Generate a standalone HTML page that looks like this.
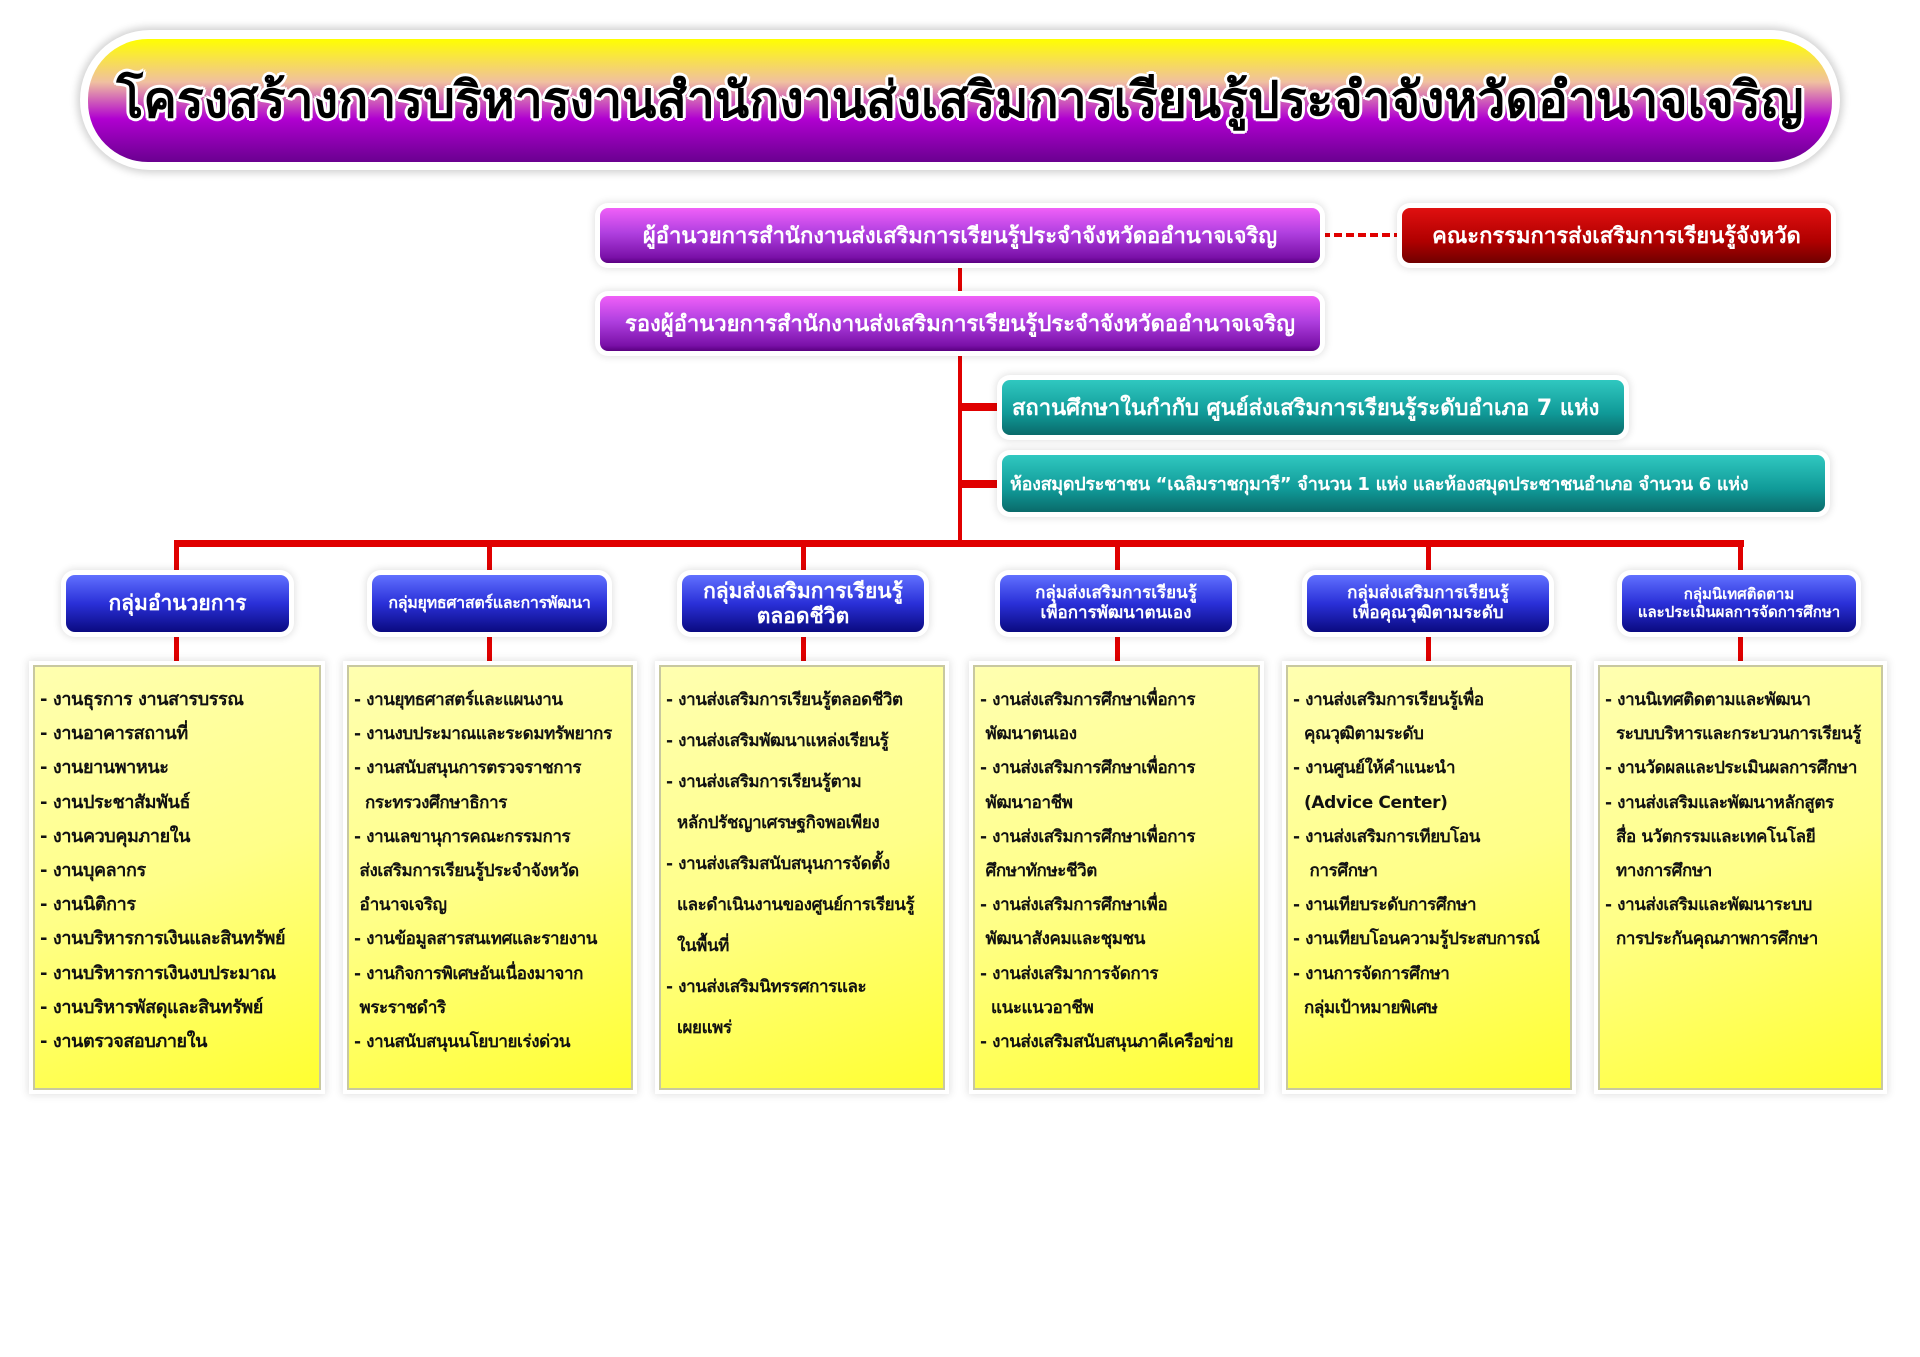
<!DOCTYPE html>
<html><head><meta charset="utf-8"><style>
*{margin:0;padding:0;box-sizing:border-box}
body{width:1920px;height:1357px;background:#fff;position:relative;overflow:hidden;font-family:"DejaVu Sans","Liberation Sans",sans-serif;font-weight:bold}
.a{position:absolute}
.glow{position:absolute;background:#fff;box-shadow:0 0 8px 3px rgba(0,0,0,.18)}
.box{position:absolute;display:flex;align-items:center;justify-content:center;text-align:center;color:#fff;white-space:nowrap;overflow:hidden;box-shadow:0 0 0 5px #fff,0 0 8px 6px rgba(0,0,0,.12)}
.pur{background:linear-gradient(#f060f8,#b040e0 45%,#7a10a8 90%,#5a0080);border-radius:8px;font-size:22px}
.red{background:linear-gradient(#e01010,#b00000 60%,#700000);border-radius:8px;font-size:22px}
.teal{background:linear-gradient(#30c8c0,#109a98 60%,#0a6a6a);border-radius:8px;font-size:22px;justify-content:flex-start;padding-left:10px}
.blue{background:linear-gradient(#6070ff,#2a30d8 50%,#0a0a80);border-radius:9px;font-size:21px;line-height:1.15}
.blue.s{font-size:17px}
.ln{position:absolute;background:#e00000}
.yl{position:absolute;background:linear-gradient(160deg,#ffffb0,#ffff88 50%,#ffff30);border:2px solid #c8c8a0;font-size:18px;letter-spacing:-0.4px;color:#111;padding:0 5px;white-space:nowrap;overflow:hidden;box-shadow:0 0 0 4px #fff,0 0 8px 5px rgba(0,0,0,.12)}
.yl div{height:34.2px;line-height:34.2px}
.yl.t div{height:41px;line-height:41px}
</style></head><body>
<div class="glow" style="left:80px;top:30px;width:1760px;height:140px;border-radius:70px"></div>
<div class="a" style="left:88px;top:39px;width:1744px;height:123px;border-radius:60px;background:linear-gradient(#ffff00 0%,#f0c0a0 35%,#b000d0 65%,#6a0090 100%);font-size:50px;color:#000;display:flex;align-items:center;justify-content:center;white-space:nowrap;text-shadow:-2px -2px 0 #fff,2px -2px 0 #fff,-2px 2px 0 #fff,2px 2px 0 #fff,0 3px 0 #fff,3px 0 0 #fff,-3px 0 0 #fff,0 -3px 0 #fff">โครงสร้างการบริหารงานสำนักงานส่งเสริมการเรียนรู้ประจำจังหวัดอำนาจเจริญ</div>

<div class="ln" style="left:958px;top:262px;width:4px;height:282px"></div>
<div class="a" style="left:1322px;top:233px;width:80px;border-top:4px dashed #e00000"></div>
<div class="ln" style="left:960px;top:403px;width:42px;height:8px"></div>
<div class="ln" style="left:960px;top:480px;width:42px;height:8px"></div>
<div class="ln" style="left:174px;top:540px;width:1570px;height:7px"></div>
<div class="ln" style="left:174px;top:544px;width:5px;height:32px"></div>
<div class="ln" style="left:487px;top:544px;width:5px;height:32px"></div>
<div class="ln" style="left:801px;top:544px;width:5px;height:32px"></div>
<div class="ln" style="left:1115px;top:544px;width:5px;height:32px"></div>
<div class="ln" style="left:1426px;top:544px;width:5px;height:32px"></div>
<div class="ln" style="left:1738px;top:544px;width:5px;height:32px"></div>
<div class="ln" style="left:174px;top:632px;width:5px;height:34px"></div>
<div class="ln" style="left:487px;top:632px;width:5px;height:34px"></div>
<div class="ln" style="left:801px;top:632px;width:5px;height:34px"></div>
<div class="ln" style="left:1115px;top:632px;width:5px;height:34px"></div>
<div class="ln" style="left:1426px;top:632px;width:5px;height:34px"></div>
<div class="ln" style="left:1738px;top:632px;width:5px;height:34px"></div>

<div class="box pur" style="left:600px;top:208px;width:720px;height:55px">ผู้อำนวยการสำนักงานส่งเสริมการเรียนรู้ประจำจังหวัดออำนาจเจริญ</div>
<div class="box red" style="left:1402px;top:208px;width:429px;height:55px">คณะกรรมการส่งเสริมการเรียนรู้จังหวัด</div>
<div class="box pur" style="left:600px;top:296px;width:720px;height:55px">รองผู้อำนวยการสำนักงานส่งเสริมการเรียนรู้ประจำจังหวัดออำนาจเจริญ</div>
<div class="box teal" style="left:1002px;top:380px;width:622px;height:55px">สถานศึกษาในกำกับ ศูนย์ส่งเสริมการเรียนรู้ระดับอำเภอ 7 แห่ง</div>
<div class="box teal" style="left:1002px;top:455px;width:823px;height:57px;font-size:18px;letter-spacing:-0.3px;padding-left:8px">ห้องสมุดประชาชน “เฉลิมราชกุมารี” จำนวน 1 แห่ง และห้องสมุดประชาชนอำเภอ จำนวน 6 แห่ง</div>

<div class="box blue" style="left:66px;top:575px;width:223px;height:57px">กลุ่มอำนวยการ</div>
<div class="box blue" style="left:372px;top:575px;width:235px;height:57px;font-size:16px;letter-spacing:-0.3px">กลุ่มยุทธศาสตร์และการพัฒนา</div>
<div class="box blue" style="left:682px;top:575px;width:242px;height:57px">กลุ่มส่งเสริมการเรียนรู้<br>ตลอดชีวิต</div>
<div class="box blue s" style="left:1000px;top:575px;width:232px;height:57px">กลุ่มส่งเสริมการเรียนรู้<br>เพื่อการพัฒนาตนเอง</div>
<div class="box blue s" style="left:1307px;top:575px;width:242px;height:57px">กลุ่มส่งเสริมการเรียนรู้<br>เพื่อคุณวุฒิตามระดับ</div>
<div class="box blue s" style="left:1622px;top:575px;width:234px;height:57px;font-size:15px">กลุ่มนิเทศติดตาม<br>และประเมินผลการจัดการศึกษา</div>

<div class="yl" style="left:33px;top:665px;width:288px;height:425px;padding-top:16px">
<div>- งานธุรการ งานสารบรรณ</div><div>- งานอาคารสถานที่</div><div>- งานยานพาหนะ</div><div>- งานประชาสัมพันธ์</div><div>- งานควบคุมภายใน</div><div>- งานบุคลากร</div><div>- งานนิติการ</div><div>- งานบริหารการเงินและสินทรัพย์</div><div>- งานบริหารการเงินงบประมาณ</div><div>- งานบริหารพัสดุและสินทรัพย์</div><div>- งานตรวจสอบภายใน</div></div>
<div class="yl" style="left:347px;top:665px;width:286px;height:425px;padding-top:16px;font-size:17px">
<div>- งานยุทธศาสตร์และแผนงาน</div><div>- งานงบประมาณและระดมทรัพยากร</div><div>- งานสนับสนุนการตรวจราชการ</div><div>&nbsp;&nbsp;กระทรวงศึกษาธิการ</div><div>- งานเลขานุการคณะกรรมการ</div><div>&nbsp;ส่งเสริมการเรียนรู้ประจำจังหวัด</div><div>&nbsp;อำนาจเจริญ</div><div>- งานข้อมูลสารสนเทศและรายงาน</div><div>- งานกิจการพิเศษอันเนื่องมาจาก</div><div>&nbsp;พระราชดำริ</div><div>- งานสนับสนุนนโยบายเร่งด่วน</div></div>
<div class="yl t" style="left:659px;top:665px;width:286px;height:425px;padding-top:13px;font-size:17px">
<div>- งานส่งเสริมการเรียนรู้ตลอดชีวิต</div><div>- งานส่งเสริมพัฒนาแหล่งเรียนรู้</div><div>- งานส่งเสริมการเรียนรู้ตาม</div><div>&nbsp;&nbsp;หลักปรัชญาเศรษฐกิจพอเพียง</div><div>- งานส่งเสริมสนับสนุนการจัดตั้ง</div><div>&nbsp;&nbsp;และดำเนินงานของศูนย์การเรียนรู้</div><div>&nbsp;&nbsp;ในพื้นที่</div><div>- งานส่งเสริมนิทรรศการและ</div><div>&nbsp;&nbsp;เผยแพร่</div></div>
<div class="yl" style="left:973px;top:665px;width:287px;height:425px;padding-top:16px;font-size:17px">
<div>- งานส่งเสริมการศึกษาเพื่อการ</div><div>&nbsp;พัฒนาตนเอง</div><div>- งานส่งเสริมการศึกษาเพื่อการ</div><div>&nbsp;พัฒนาอาชีพ</div><div>- งานส่งเสริมการศึกษาเพื่อการ</div><div>&nbsp;ศึกษาทักษะชีวิต</div><div>- งานส่งเสริมการศึกษาเพื่อ</div><div>&nbsp;พัฒนาสังคมและชุมชน</div><div>- งานส่งเสริมาการจัดการ</div><div>&nbsp;&nbsp;แนะแนวอาชีพ</div><div>- งานส่งเสริมสนับสนุนภาคีเครือข่าย</div></div>
<div class="yl" style="left:1286px;top:665px;width:286px;height:425px;padding-top:16px;font-size:17px">
<div>- งานส่งเสริมการเรียนรู้เพื่อ</div><div>&nbsp;&nbsp;คุณวุฒิตามระดับ</div><div>- งานศูนย์ให้คำแนะนำ</div><div>&nbsp;&nbsp;(Advice Center)</div><div>- งานส่งเสริมการเทียบโอน</div><div>&nbsp;&nbsp;&nbsp;การศึกษา</div><div>- งานเทียบระดับการศึกษา</div><div>- งานเทียบโอนความรู้ประสบการณ์</div><div>- งานการจัดการศึกษา</div><div>&nbsp;&nbsp;กลุ่มเป้าหมายพิเศษ</div></div>
<div class="yl" style="left:1598px;top:665px;width:285px;height:425px;padding-top:16px;font-size:17px">
<div>- งานนิเทศติดตามและพัฒนา</div><div>&nbsp;&nbsp;ระบบบริหารและกระบวนการเรียนรู้</div><div>- งานวัดผลและประเมินผลการศึกษา</div><div>- งานส่งเสริมและพัฒนาหลักสูตร</div><div>&nbsp;&nbsp;สื่อ นวัตกรรมและเทคโนโลยี</div><div>&nbsp;&nbsp;ทางการศึกษา</div><div>- งานส่งเสริมและพัฒนาระบบ</div><div>&nbsp;&nbsp;การประกันคุณภาพการศึกษา</div></div>
</body></html>
